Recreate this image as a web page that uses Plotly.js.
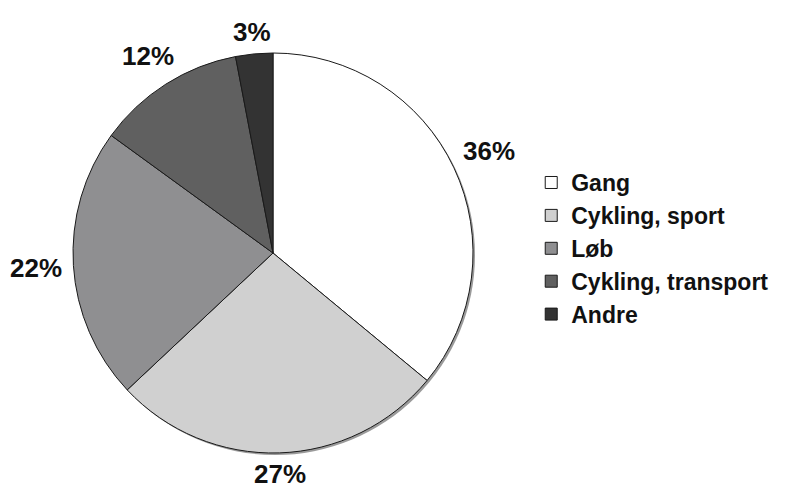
<!DOCTYPE html>
<html>
<head>
<meta charset="utf-8">
<script src="https://cdn.plot.ly/plotly-3.0.1.min.js"></script>
<style>
  html, body { margin: 0; padding: 0; background: #ffffff; }
  #chart { width: 787px; height: 491px; }
</style>
</head>
<body>
<div id="chart"></div>
<script>
// Activity categories and their share (percent)
const categories = ['Gang', 'Cykling, sport', 'Løb', 'Cykling, transport', 'Andre'];
const shares = [36, 27, 22, 12, 3];
const sliceColors = ['#ffffff', '#d0d0d0', '#8f8f91', '#606060', '#333333'];

const W = 787, H = 491;
// Pie placement in pixels: centre (273, 253), radius 200
const cx = 273, cy = 253, r = 200;
const dom = {
  x: [(cx - r) / W, (cx + r) / W],
  y: [(H - (cy + r)) / H, (H - (cy - r)) / H]
};

const labelFont = { family: 'Liberation Sans, Arial, sans-serif', size: 26, color: '#111111', weight: 'bold' };

const trace = {
  type: 'pie',
  labels: categories,
  values: shares,
  sort: false,
  direction: 'clockwise',
  rotation: 0,
  domain: dom,
  marker: { colors: sliceColors, line: { color: '#1a1a1a', width: 1 } },
  textinfo: 'none',
  hoverinfo: 'label+percent',
  showlegend: true
};

// Percent labels sit just outside the rim, on each slice's mid-angle.
// The text box is pushed out by its own extent along that direction.
const total = shares.reduce((a, b) => a + b, 0);
const gap = 11;
let cum = 0;
const annotations = shares.map((v) => {
  const txt = v + '%';
  const theta = 2 * Math.PI * (cum + v / 2) / total;
  cum += v;
  const dx = Math.sin(theta), dy = -Math.cos(theta);
  const digits = String(v).length;
  const halfW = (digits * 0.556 + 0.889) * labelFont.size / 2;
  const halfH = 0.36 * labelFont.size;
  const R = r + gap + Math.abs(dx) * halfW + Math.abs(dy) * halfH;
  const px = cx + R * dx, py = cy + R * dy;
  return {
    text: txt,
    xref: 'paper', yref: 'paper',
    x: px / W, y: (H - py) / H,
    xanchor: 'center', yanchor: 'middle',
    showarrow: false,
    font: labelFont
  };
});

// soft drop shadow on the lower-right rim of the pie
const sh = 2;
const layout = {
  width: W,
  height: H,
  margin: { l: 0, r: 0, t: 0, b: 0 },
  paper_bgcolor: '#ffffff',
  showlegend: true,
  legend: {
    x: 0.675,
    y: 0.672,
    xanchor: 'left',
    yanchor: 'top',
    font: { family: 'Liberation Sans, Arial, sans-serif', size: 23, color: '#111111', weight: 'bold' },
    bgcolor: 'rgba(0,0,0,0)'
  },
  annotations: annotations,
  shapes: [{
    type: 'circle',
    xref: 'paper', yref: 'paper',
    x0: (cx - r + sh) / W, x1: (cx + r + sh) / W,
    y0: (H - (cy + r + sh)) / H, y1: (H - (cy - r + sh)) / H,
    fillcolor: '#9a9a9a',
    line: { width: 0 },
    layer: 'below'
  }]
};

Plotly.newPlot('chart', [trace], layout, { displayModeBar: false, staticPlot: true });
</script>
</body>
</html>
